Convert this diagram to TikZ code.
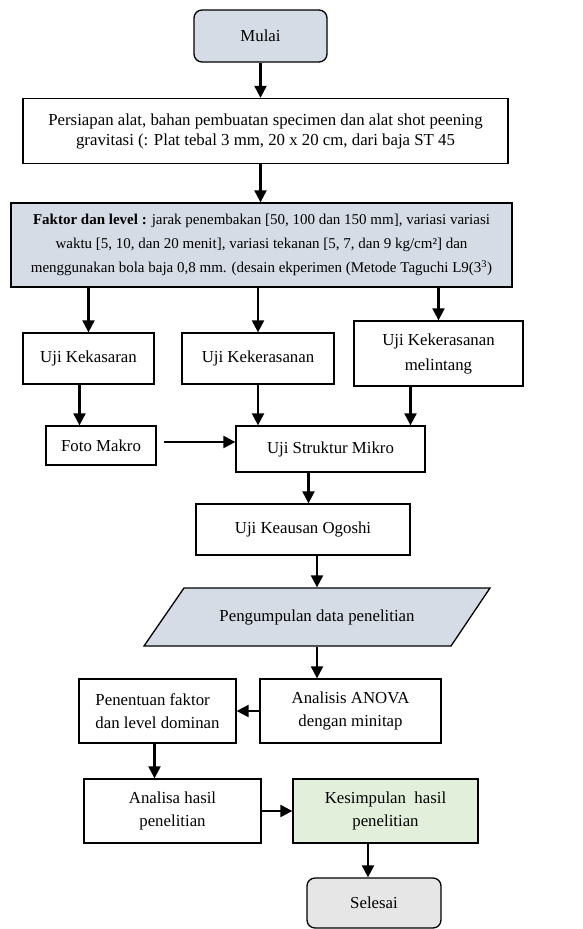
\documentclass[tikz,border=0pt]{standalone}
\usepackage{fontspec}
\setmainfont{Liberation Serif}
\usetikzlibrary{arrows.meta,calc}
\definecolor{bluegray}{HTML}{D6DCE5}
\definecolor{lgreen}{HTML}{E2EFDA}
\definecolor{lgray}{HTML}{E6E6E6}
\tikzset{
  box/.style={draw=black, line width=1.3pt, align=center, inner sep=0pt,
    font=\fontsize{16.8}{20}\selectfont},
  wide/.style={font=\fontsize{16.8}{23.5}\selectfont},
  term/.style={box, rounded corners=8pt},
  arr/.style={line width=2.2pt, -{Triangle[width=12pt,length=12pt]}},
}
\begin{document}
\begin{tikzpicture}[x=1pt,y=-1pt]
\useasboundingbox (0,0) rectangle (582,929);
\node[term, fill=bluegray, minimum width=133pt, minimum height=52pt] (mulai) at (260.5,36) {Mulai};
\node[box, minimum width=485pt, minimum height=65pt] (persiapan) at (265.5,131)
  {Persiapan alat, bahan pembuatan specimen dan alat shot peening\\gravitasi (: Plat tebal 3 mm, 20 x 20 cm, dari baja ST 45};
\node[box, fill=bluegray, minimum width=501pt, minimum height=84pt, font=\fontsize{15}{24}\selectfont] (faktor) at (261.5,245)
  {\textbf{Faktor dan level :} jarak penembakan [50, 100 dan 150 mm], variasi variasi\\
   waktu [5, 10, dan 20 menit], variasi tekanan [5, 7, dan 9 kg/cm²] dan\\
   menggunakan bola baja 0,8 mm. (desain ekperimen (Metode Taguchi L9(3\textsuperscript{3})};
\node[box, minimum width=131pt, minimum height=51pt] (k1) at (88.5,358.5) {Uji Kekasaran};
\node[box, minimum width=152pt, minimum height=51pt] (k2) at (258,358.5) {Uji Kekerasanan};
\node[box, minimum width=169pt, minimum height=65pt, font=\fontsize{16.8}{25}\selectfont] (k3) at (438.5,353.5) {Uji Kekerasanan\\melintang};
\node[box, minimum width=110pt, minimum height=39pt] (foto) at (101,445.5) {Foto Makro};
\node[box, minimum width=189pt, minimum height=46pt] (struktur) at (330.5,449) {Uji Struktur Mikro};
\node[box, minimum width=214pt, minimum height=51pt] (ogoshi) at (303,529.5) {Uji Keausan Ogoshi};
\draw[line width=1.3pt, fill=bluegray] (184,588) -- (490,588) -- (451,646) -- (144,646) -- cycle;
\node[box, draw=none, minimum width=300pt, minimum height=58pt] (peng) at (317,617) {Pengumpulan data penelitian};
\node[box, wide, minimum width=181pt, minimum height=64pt] (anova) at (350.5,711) {Analisis ANOVA\\dengan minitap};
\node[box, wide, align=left, minimum width=157pt, minimum height=64pt] (penentuan) at (157.5,711) {Penentuan faktor\\dan level dominan};
\node[box, wide, minimum width=177pt, minimum height=64pt] (analisa) at (172.5,811) {Analisa hasil\\penelitian};
\node[box, wide, fill=lgreen, minimum width=185pt, minimum height=64pt] (kesimpulan) at (385.5,811) {Kesimpulan\ \ hasil\\penelitian};
\node[term, fill=lgray, minimum width=134pt, minimum height=50pt] (selesai) at (374,903) {Selesai};

\coordinate (fs) at ([xshift=7pt,yshift=3.5pt]foto.east);
\draw[arr] (mulai.south) -- (mulai.south |- persiapan.north);
\draw[arr] ([xshift=-5pt]persiapan.south) -- ([xshift=-5pt]persiapan.south |- faktor.north);
\draw[arr] (faktor.south -| k1) -- (k1.north);
\draw[arr] (faktor.south -| k2) -- (k2.north);
\draw[arr] (faktor.south -| k3) -- (k3.north);
\draw[arr] ([xshift=-9pt]k1.south) -- ([xshift=-9pt]k1.south |- foto.north);
\draw[arr] (k2.south) -- (k2.south |- struktur.north);
\draw[arr] ([xshift=-28pt]k3.south) -- ([xshift=-28pt]k3.south |- struktur.north);
\draw[arr] (fs) -- (fs -| struktur.west);
\draw[arr] ([xshift=-22pt]struktur.south) -- ([xshift=-22pt]struktur.south |- ogoshi.north);
\draw[arr] (ogoshi.south -| peng) -- (peng.north);
\draw[arr] (peng.south) -- (peng.south |- anova.north);
\draw[arr] (anova.west) -- (penentuan.east);
\draw[arr] ([xshift=-3pt]penentuan.south) -- ([xshift=-3pt]penentuan.south |- analisa.north);
\draw[arr] (analisa.east) -- (kesimpulan.west);
\draw[arr] ([xshift=-6pt]selesai.north |- kesimpulan.south) -- ([xshift=-6pt]selesai.north);
\end{tikzpicture}
\end{document}
